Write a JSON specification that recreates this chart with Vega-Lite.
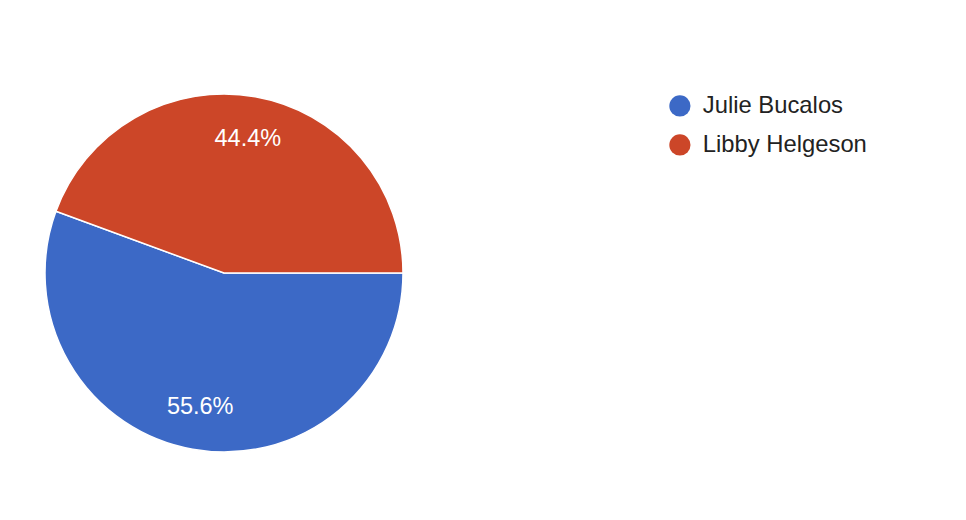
{
  "$schema": "https://vega.github.io/schema/vega-lite/v6.json",
  "width": 448,
  "height": 520,
  "autosize": {"type": "none"},
  "padding": {"left": 0, "top": 13, "right": 518, "bottom": 0},
  "background": "#ffffff",
  "config": {"view": {"stroke": null}, "font": "Liberation Sans"},
  "data": {
    "values": [
      {"candidate": "Julie Bucalos", "share": 55.6, "label": "55.6%"},
      {"candidate": "Libby Helgeson", "share": 44.4, "label": "44.4%"}
    ]
  },
  "encoding": {
    "theta": {"field": "share", "type": "quantitative", "stack": true, "scale": {"range": [1.5707963, 7.8539816]}},
    "color": {
      "field": "candidate",
      "type": "nominal",
      "sort": ["Julie Bucalos", "Libby Helgeson"],
      "scale": {"domain": ["Julie Bucalos", "Libby Helgeson"], "range": ["#3c69c6", "#cc4628"]},
      "legend": {
        "title": null,
        "orient": "none",
        "legendX": 668,
        "legendY": 81,
        "symbolType": "circle",
        "symbolSize": 450,
        "symbolStrokeWidth": 0,
        "symbolOpacity": 1,
        "labelFontSize": 23.8,
        "labelColor": "#222222",
        "labelFont": "Liberation Sans",
        "labelOffset": 11,
        "labelLimit": 300,
        "rowPadding": 14
      }
    },
    "order": {"field": "candidate", "sort": "ascending"}
  },
  "layer": [
    {"mark": {"type": "arc", "outerRadius": 179, "stroke": "#ffffff", "strokeWidth": 1.5}},
    {
      "mark": {"type": "text", "radius": 136, "fontSize": 23.5, "fill": "#ffffff", "align": "center", "baseline": "middle", "font": "Liberation Sans"},
      "encoding": {"text": {"field": "label"}, "color": {"value": "#ffffff"}}
    }
  ]
}
